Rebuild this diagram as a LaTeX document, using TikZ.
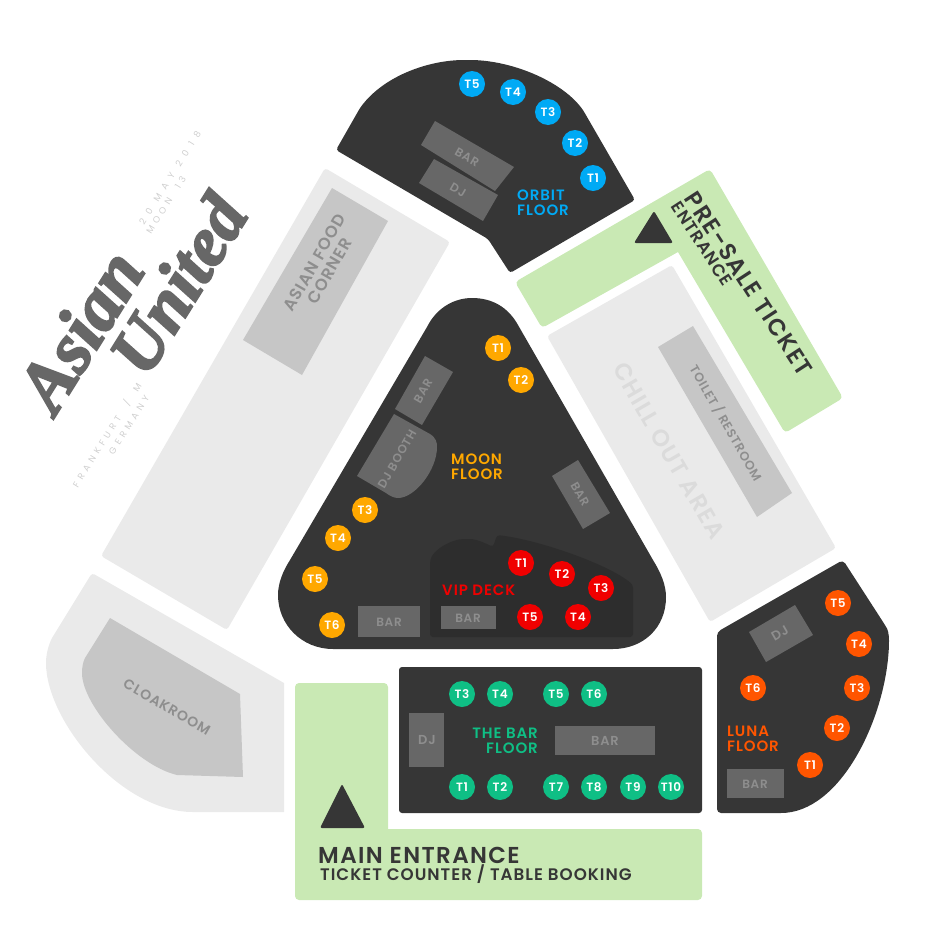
\documentclass[tikz,border=0pt]{standalone}
\usepackage{fontspec}
\setmainfont{Poppins}[BoldFont={Poppins SemiBold}, LetterSpace=6]
\newfontfamily\logofont[BoldItalicFeatures={FakeBold=3}]{Liberation Serif}
\newfontfamily\datefont[LetterSpace=75]{Poppins}
\newfontfamily\placefont[LetterSpace=47, WordSpace=2]{Poppins}
\definecolor{floordark}{HTML}{363636}
\definecolor{vipdark}{HTML}{2D2D2D}
\definecolor{barbox}{HTML}{676767}
\definecolor{bartext}{HTML}{8E8E8E}
\definecolor{lightarea}{HTML}{EAEAEA}
\definecolor{midarea}{HTML}{C6C6C6}
\definecolor{entrygreen}{HTML}{C9E9B4}
\definecolor{orbitblue}{HTML}{00AAF5}
\definecolor{moonorange}{HTML}{FFA800}
\definecolor{vipred}{HTML}{F00000}
\definecolor{lunared}{HTML}{FF5500}
\definecolor{barfloorgreen}{HTML}{0FBF85}
\tikzset{
    tablespot/.style={circle, fill=#1, text=white, minimum size=26pt, inner sep=0pt, font=\bfseries\fontsize{12}{12}\selectfont},
    barlabel/.style={text=bartext, inner sep=0pt, font=\bfseries\fontsize{12}{12}\selectfont},
    floorlabel/.style={text=#1, inner sep=0pt, align=left, font=\bfseries\fontsize{15}{15}\selectfont},
    arealabel/.style={text=bartext, inner sep=0pt, align=center, font=\bfseries\fontsize{16.5}{17}\selectfont},
    entrylabel/.style={text=floordark, inner sep=0pt, font=\bfseries},
    datelabel/.style={text=black!19, inner sep=0pt, rotate=58, font=\datefont\fontsize{9}{9}\selectfont},
    placelabel/.style={text=black!19, inner sep=0pt, rotate=58, font=\placefont\fontsize{9}{9}\selectfont},
    logolabel/.style={text=barbox, inner sep=0pt, rotate=58, font=\logofont\bfseries\itshape\fontsize{#1}{#1}\selectfont}
}
\begin{document}
\begin{tikzpicture}[x=1pt, y=-1pt]
    \useasboundingbox (0, 0) rectangle (945, 945);
    % areas
    \fill[lightarea, rounded corners=3pt] (325, 168) -- (450, 242) -- (227, 630) -- (101, 556) -- cycle;
    \fill[midarea] (332, 188) -- (388, 221) -- (302, 375) -- (243, 340) -- cycle;
    \fill[lightarea, rounded corners=3pt] (547, 336) -- (672, 265) -- (836, 548) -- (710, 622) -- cycle;
    \fill[midarea] (658, 347) -- (693, 326) -- (792, 493) -- (757, 517) -- cycle;
    \fill[lightarea] (284, 683) -- (284, 812) -- (193, 812) .. controls (120, 812) and (46, 720) .. (46, 663) .. controls (46, 655) and (48, 646) .. (52, 638) [rounded corners=3pt] -- (92, 573) [sharp corners] -- cycle;
    \fill[midarea] (110, 618) -- (240, 694) -- (243, 777) -- (177, 775) .. controls (135, 765) and (82, 705) .. (82, 673) .. controls (82, 667) and (83, 662) .. (85, 658) -- cycle;
    % entrances
    \fill[entrygreen, rounded corners=4pt] (295, 760) -- (295, 683) -- (388, 683) [sharp corners] -- (388, 829) [rounded corners=4pt] -- (702, 829) -- (702, 900) -- (295, 900) -- cycle;
    \fill[entrygreen, rounded corners=4pt] (515, 282) -- (710, 169) -- (843, 398) -- (785, 433) [sharp corners] -- (678, 252) [rounded corners=4pt] -- (542, 328) -- cycle;
    \fill[floordark, rounded corners=2pt] (342, 784) -- (365, 828) -- (320, 828) -- cycle;
    \fill[floordark, rounded corners=2pt] (654, 211) -- (673, 243) -- (634, 243) -- cycle;
    % floors
    \fill[floordark, rounded corners=3pt] (336, 150) -- (360, 108) .. controls (385, 75) and (430, 60) .. (467, 60) .. controls (510, 60) and (560, 80) .. (583, 110) -- (635, 200) -- (510, 273) -- (488, 239) -- cycle;
    \fill[floordark] (427, 327) .. controls (437, 307) and (455, 298) .. (472, 298) .. controls (492, 298) and (508, 307) .. (518, 325) -- (653, 560) .. controls (661, 573) and (666, 585) .. (666, 597) .. controls (666, 628) and (643, 649) .. (613, 649) -- (333, 649) .. controls (302, 649) and (278, 625) .. (278, 595) .. controls (278, 583) and (283, 571) .. (290, 560) -- cycle;
    \fill[vipdark, rounded corners=3pt] (430, 637) -- (430, 563) .. controls (432, 550) and (452, 539) .. (467, 539) .. controls (476, 539) and (485, 543) .. (493, 547) -- (497, 535) .. controls (540, 540) and (610, 565) .. (633, 585) -- (633, 637) -- cycle;
    \fill[floordark, rounded corners=3pt] (399, 667) rectangle (702, 813);
    \fill[floordark, rounded corners=4pt] (717, 632) -- (843, 560) -- (885, 625) .. controls (889, 632) and (889, 640) .. (889, 645) .. controls (885, 720) and (840, 813) .. (777, 813) -- (717, 813) -- cycle;
    % bars
    \fill[barbox] (435, 121) -- (514, 167) -- (495, 191) -- (421, 145) -- cycle;
    \fill[barbox] (434, 159) -- (498, 195) -- (483, 221) -- (419, 183) -- cycle;
    \fill[barbox] (425, 356) -- (453, 372) -- (422, 425) -- (395, 409) -- cycle;
    \fill[barbox] (394, 414) -- (430, 434) .. controls (436, 438) and (437, 442) .. (437, 447) .. controls (437, 470) and (415, 498) .. (398, 498) .. controls (394, 498) and (390, 496) .. (386, 493) -- (357, 476) -- cycle;
    \fill[barbox] (578, 460) -- (610, 513) -- (583, 529) -- (552, 476) -- cycle;
    \fill[barbox] (358, 606) rectangle (420, 637);
    \fill[barbox] (441, 606) rectangle (496, 629);
    \fill[barbox] (409, 713) rectangle (444, 767);
    \fill[barbox] (555, 726) rectangle (655, 755);
    \fill[barbox] (795, 605) -- (813, 635) -- (766, 662) -- (749, 632) -- cycle;
    \fill[barbox] (727, 769) rectangle (784, 798);
    % area labels
    \node[arealabel, rotate=60] (foodlabel) at (322, 267) {ASIAN FOOD\\CORNER};
    \node[arealabel, rotate=-60, text=black!14, font=\bfseries\fontsize{23.5}{24}\selectfont] (chilllabel) at (669, 451) {CHILL OUT AREA};
    \node[arealabel, rotate=-60, font=\bfseries\fontsize{12.5}{13}\selectfont] (toiletlabel) at (726, 423) {TOILET / RESTROOM};
    \node[arealabel, rotate=-30, font=\bfseries\fontsize{14}{14}\selectfont] (cloaklabel) at (167, 707) {CLOAKROOM};
    % bar labels
    \node[barlabel, rotate=-30] (orbitbar) at (467, 157) {BAR};
    \node[barlabel, rotate=-30] (orbitdj) at (458, 190) {DJ};
    \node[barlabel, rotate=60] (moonbar) at (423, 391) {BAR};
    \node[barlabel, rotate=60] (moonbooth) at (397, 459) {DJ BOOTH};
    \node[barlabel, rotate=-60] (moonbartwo) at (580, 494) {BAR};
    \node[barlabel] (moonbarthree) at (389, 622) {BAR};
    \node[barlabel] (vipbar) at (468, 618) {BAR};
    \node[barlabel, font=\bfseries\fontsize{13}{13}\selectfont] (bardj) at (427, 740) {DJ};
    \node[barlabel, font=\bfseries\fontsize{13}{13}\selectfont] (barbar) at (605, 741) {BAR};
    \node[barlabel, rotate=30, font=\bfseries\fontsize{13}{13}\selectfont] (lunadj) at (780, 633) {DJ};
    \node[barlabel] (lunabar) at (755, 784) {BAR};
    % floor labels
    \node[floorlabel=orbitblue, anchor=north west] (orbitlabel) at (517, 190) {ORBIT\\FLOOR};
    \node[floorlabel=moonorange, anchor=north west] (moonlabel) at (451, 454) {MOON\\FLOOR};
    \node[floorlabel=vipred, anchor=west] (viplabel) at (442, 590) {VIP DECK};
    \node[floorlabel=barfloorgreen, anchor=north east, align=right] (barfloorlabel) at (538, 728) {THE BAR\\FLOOR};
    \node[floorlabel=lunared, anchor=north west] (lunalabel) at (727, 726) {LUNA\\FLOOR};
    % entrance labels
    \node[entrylabel, anchor=west, font=\bfseries\fontsize{23}{23}\selectfont] (mainlabel) at (318, 855) {MAIN ENTRANCE};
    \node[entrylabel, anchor=west, font=\bfseries\fontsize{16.7}{16.7}\selectfont] (ticketlabel) at (320, 874) {TICKET COUNTER / TABLE BOOKING};
    \node[entrylabel, rotate=-57, font=\bfseries\fontsize{23.5}{24}\selectfont] (presalelabel) at (749, 284) {PRE-SALE TICKET};
    \node[entrylabel, rotate=-57, font=\bfseries\fontsize{17}{17}\selectfont] (presaleentry) at (702, 244) {ENTRANCE};
    % tables
    \node[tablespot=orbitblue] (orbitone) at (593, 178) {T1};
    \node[tablespot=orbitblue] (orbittwo) at (575, 143) {T2};
    \node[tablespot=orbitblue] (orbitthree) at (548, 112) {T3};
    \node[tablespot=orbitblue] (orbitfour) at (513, 92) {T4};
    \node[tablespot=orbitblue] (orbitfive) at (472, 84) {T5};
    \node[tablespot=moonorange] (moonone) at (498, 348) {T1};
    \node[tablespot=moonorange] (moontwo) at (521, 380) {T2};
    \node[tablespot=moonorange] (moonthree) at (365, 510) {T3};
    \node[tablespot=moonorange] (moonfour) at (338, 538) {T4};
    \node[tablespot=moonorange] (moonfive) at (315, 579) {T5};
    \node[tablespot=moonorange] (moonsix) at (332, 625) {T6};
    \node[tablespot=vipred] (vipone) at (521, 563) {T1};
    \node[tablespot=vipred] (viptwo) at (562, 574) {T2};
    \node[tablespot=vipred] (vipthree) at (601, 588) {T3};
    \node[tablespot=vipred] (vipfour) at (578, 617) {T4};
    \node[tablespot=vipred] (vipfive) at (530, 617) {T5};
    \node[tablespot=barfloorgreen] (barone) at (462, 787) {T1};
    \node[tablespot=barfloorgreen] (bartwo) at (500, 787) {T2};
    \node[tablespot=barfloorgreen] (barthree) at (462, 694) {T3};
    \node[tablespot=barfloorgreen] (barfour) at (500, 694) {T4};
    \node[tablespot=barfloorgreen] (barfive) at (556, 694) {T5};
    \node[tablespot=barfloorgreen] (barsix) at (594, 694) {T6};
    \node[tablespot=barfloorgreen] (barseven) at (556, 787) {T7};
    \node[tablespot=barfloorgreen] (bareight) at (594, 787) {T8};
    \node[tablespot=barfloorgreen] (barnine) at (633, 787) {T9};
    \node[tablespot=barfloorgreen] (barten) at (671, 787) {T10};
    \node[tablespot=lunared] (lunaone) at (810, 765) {T1};
    \node[tablespot=lunared] (lunatwo) at (837, 728) {T2};
    \node[tablespot=lunared] (lunathree) at (857, 688) {T3};
    \node[tablespot=lunared] (lunafour) at (859, 644) {T4};
    \node[tablespot=lunared] (lunafive) at (838, 603) {T5};
    \node[tablespot=lunared] (lunasix) at (753, 688) {T6};
    % logo
    \node[logolabel=72] (asianlogo) at (80, 330) {Asian};
    \node[logolabel=70] (unitedlogo) at (178, 284) {United};
    \node[datelabel] (datelabel) at (170, 178) {20 MAY 2018};
    \node[placelabel] (moonaddress) at (166, 205) {MOON 13};
    \node[placelabel] (citylabel) at (107, 435) {FRANKFURT / M};
    \node[placelabel] (countrylabel) at (129, 425) {GERMANY};
\end{tikzpicture}
\end{document}
